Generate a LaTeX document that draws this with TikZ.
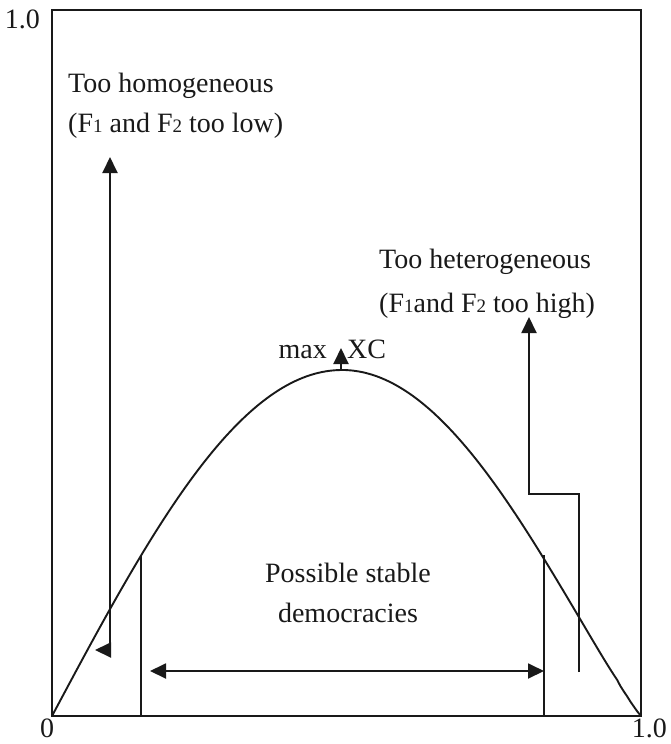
\documentclass[tikz,border=0pt]{standalone}
\usepackage{fontspec}
\setmainfont{Liberation Serif}
\usetikzlibrary{arrows.meta}
\newcommand{\smalldigit}[1]{{\fontsize{19}{19}\selectfont #1}}
\begin{document}
\begin{tikzpicture}[x=1pt,y=-1pt,
  lbl/.style={font=\fontsize{28}{34}\selectfont, inner sep=0pt, anchor=base west, text=black!90},
  ln/.style={line width=1.9pt, draw=black!90},
  arr/.style={ln, -{Triangle[length=16pt,width=15pt]}},
  darr/.style={ln, {Triangle[length=16pt,width=15pt]}-{Triangle[length=16pt,width=15pt]}},
]
\useasboundingbox (0,0) rectangle (671,744);

% frame corners
\coordinate (TL) at (52,10);
\coordinate (BR) at (641,716);
\coordinate (O) at (52,716);
\draw[ln] (TL) rectangle (BR);

% curve
\draw[ln] plot[domain=52:342, samples=90] (\x,{716-346*sin(0.310345*(\x-52))})
  -- plot[domain=342:640.5, samples=90] (\x,{716-346*(sin(0.301003*(641-\x)))^1.1})
  -- (BR);

% bounds of stable region
\coordinate (L1) at (141,555);
\coordinate (L0) at (141,716);
\coordinate (R1) at (544,555);
\coordinate (R0) at (544,716);
\draw[ln] (L1) -- (L0);
\draw[ln] (R1) -- (R0);

% double arrow
\coordinate (DA) at (150,671);
\coordinate (DB) at (544,671);
\draw[darr] (DA) -- (DB);

% left arrow (too homogeneous)
\coordinate (HA) at (95,650);
\coordinate (HB) at (110,650);
\coordinate (HC) at (110,157);
\draw[darr] (HA) -- (HB) -- (HC);

% right arrow (too heterogeneous)
\coordinate (EA) at (579,672);
\coordinate (EB) at (579,494);
\coordinate (EC) at (529,494);
\coordinate (ED) at (529,317);
\draw[arr] (EA) -- (EB) -- (EC) -- (ED);

% max arrow
\coordinate (MA) at (341,370);
\coordinate (MB) at (341,348);
\draw[arr] (MA) -- (MB);

% texts
\node[lbl] (homo) at (68,92) {Too homogeneous};
\node[lbl] (homo2) at (68,132) {(F\smalldigit{1} and F\smalldigit{2} too low)};
\node[lbl] (hetero) at (379,268) {Too heterogeneous};
\node[lbl] (hetero2) at (379,312) {(F\smalldigit{1}and F\smalldigit{2} too high)};
\node[lbl, anchor=base east] (max) at (327,358) {max};
\node[lbl] (xc) at (347,358) {XC};
\node[lbl, anchor=base] (psd) at (348,582) {Possible stable};
\node[lbl, anchor=base] (dem) at (348,622) {democracies};
\node[lbl, anchor=base east] (ytop) at (40,28) {1.0};
\node[lbl, anchor=base] (zero) at (47,737) {0};
\node[lbl, anchor=base east] (xend) at (667,737) {1.0};
\end{tikzpicture}
\end{document}
